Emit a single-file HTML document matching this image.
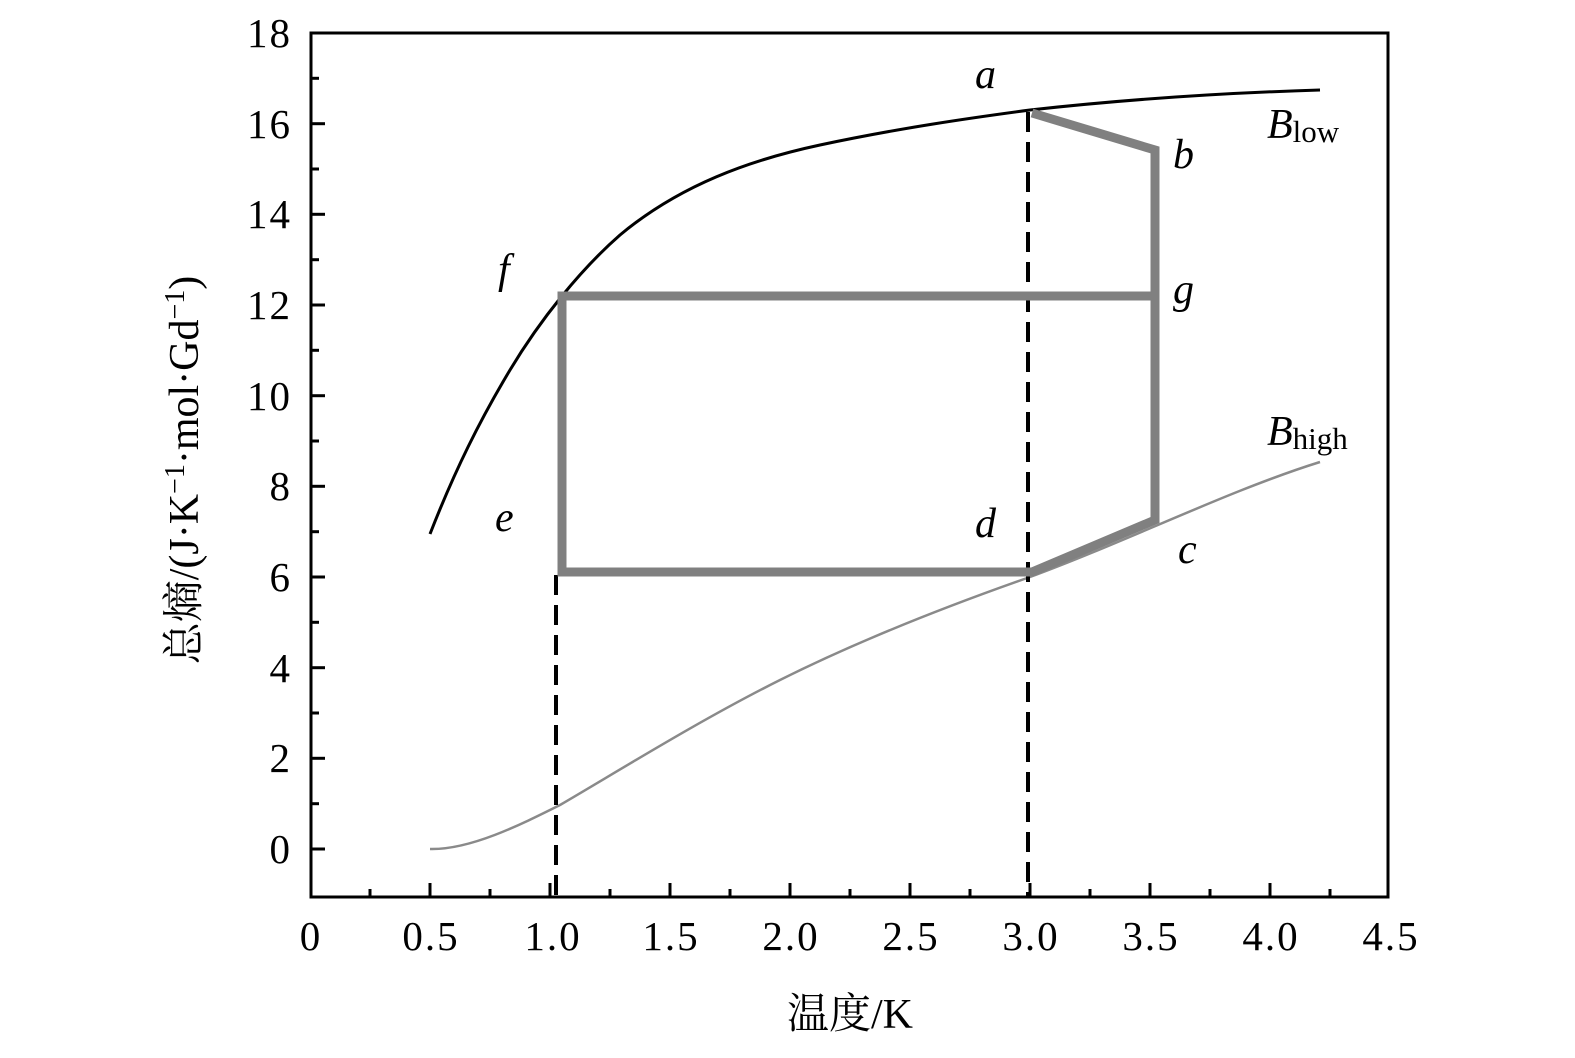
<!DOCTYPE html>
<html><head><meta charset="utf-8"><style>
html,body{margin:0;padding:0;background:#fff}
svg text{font-family:"Liberation Serif","Noto Serif CJK SC",serif}
</style></head><body>
<svg width="1575" height="1053" viewBox="0 0 1575 1053" xmlns="http://www.w3.org/2000/svg">
<rect width="1575" height="1053" fill="#fff"/>
<rect x="311" y="33" width="1077" height="864" fill="none" stroke="#000" stroke-width="3"/>
<g stroke="#000" stroke-width="3">
<line x1="370" y1="897" x2="370" y2="889"/><line x1="430" y1="897" x2="430" y2="883"/>
<line x1="490" y1="897" x2="490" y2="889"/><line x1="550" y1="897" x2="550" y2="883"/>
<line x1="610" y1="897" x2="610" y2="889"/><line x1="670" y1="897" x2="670" y2="883"/>
<line x1="730" y1="897" x2="730" y2="889"/><line x1="790" y1="897" x2="790" y2="883"/>
<line x1="850" y1="897" x2="850" y2="889"/><line x1="910" y1="897" x2="910" y2="883"/>
<line x1="970" y1="897" x2="970" y2="889"/><line x1="1030" y1="897" x2="1030" y2="883"/>
<line x1="1090" y1="897" x2="1090" y2="889"/><line x1="1150" y1="897" x2="1150" y2="883"/>
<line x1="1210" y1="897" x2="1210" y2="889"/><line x1="1270" y1="897" x2="1270" y2="883"/>
<line x1="1330" y1="897" x2="1330" y2="889"/>
<line x1="311" y1="849" x2="325" y2="849"/><line x1="311" y1="803.7" x2="319" y2="803.7"/>
<line x1="311" y1="758.3" x2="325" y2="758.3"/><line x1="311" y1="713" x2="319" y2="713"/>
<line x1="311" y1="667.7" x2="325" y2="667.7"/><line x1="311" y1="622.3" x2="319" y2="622.3"/>
<line x1="311" y1="577" x2="325" y2="577"/><line x1="311" y1="531.7" x2="319" y2="531.7"/>
<line x1="311" y1="486.3" x2="325" y2="486.3"/><line x1="311" y1="441" x2="319" y2="441"/>
<line x1="311" y1="395.7" x2="325" y2="395.7"/><line x1="311" y1="350.3" x2="319" y2="350.3"/>
<line x1="311" y1="305" x2="325" y2="305"/><line x1="311" y1="259.7" x2="319" y2="259.7"/>
<line x1="311" y1="214.3" x2="325" y2="214.3"/><line x1="311" y1="169" x2="319" y2="169"/>
<line x1="311" y1="123.7" x2="325" y2="123.7"/><line x1="311" y1="78.3" x2="319" y2="78.3"/>
</g>
<g font-size="41" text-anchor="middle" fill="#000" letter-spacing="2">
<text x="311" y="950">0</text><text x="431" y="950">0.5</text><text x="553" y="950">1.0</text>
<text x="671" y="950">1.5</text><text x="791" y="950">2.0</text><text x="911" y="950">2.5</text>
<text x="1031" y="950">3.0</text><text x="1151" y="950">3.5</text><text x="1271" y="950">4.0</text>
<text x="1391" y="950">4.5</text>
</g>
<g font-size="41" text-anchor="end" fill="#000" letter-spacing="2">
<text x="292" y="863">0</text><text x="292" y="772">2</text><text x="292" y="682">4</text>
<text x="292" y="591">6</text><text x="292" y="500">8</text><text x="292" y="410">10</text>
<text x="292" y="319">12</text><text x="292" y="228">14</text><text x="292" y="138">16</text>
<text x="292" y="47">18</text>
</g>
<text x="850" y="1028" font-size="42" text-anchor="middle">温度/K</text>
<text transform="translate(198,470) rotate(-90)" font-size="42" text-anchor="middle">总熵/(J·K<tspan font-size="28" dy="-14">−1</tspan><tspan dy="14">·mol·Gd</tspan><tspan font-size="28" dy="-14">−1</tspan><tspan dy="14">)</tspan></text>
<path d="M430,534 C455,470 480,420 510,370 C540,320 580,270 620,235 C680,185 750,160 820,145 C900,128 970,118 1030,110 C1120,100 1220,93 1320,90" fill="none" stroke="#000" stroke-width="3"/>
<path d="M430,849 C470,850 520,825 560,805 C620,770 700,720 780,680 C860,640 950,605 1030,577 C1130,540 1230,490 1320,462" fill="none" stroke="#8a8a8a" stroke-width="2.5"/>
<line x1="556" y1="575" x2="556" y2="897" stroke="#000" stroke-width="4" stroke-dasharray="20,10"/>
<line x1="1028" y1="112" x2="1028" y2="897" stroke="#000" stroke-width="4" stroke-dasharray="20,10"/>
<g fill="none" stroke="#808080" stroke-width="9">
<polyline points="1032,113 1155,150 1155,520 1032,572 562,572 562,296 1155,296"/>
</g>
<g font-size="42" font-style="italic" fill="#000">
<text x="975" y="88">a</text><text x="1173" y="168">b</text><text x="1178" y="563">c</text>
<text x="975" y="537">d</text><text x="495" y="531">e</text><text x="498" y="283">f</text>
<text x="1173" y="303">g</text>
<text x="1267" y="138">B<tspan font-style="normal" font-size="31" dy="4">low</tspan></text>
<text x="1267" y="445">B<tspan font-style="normal" font-size="31" dy="4">high</tspan></text>
</g>
</svg>
</body></html>
